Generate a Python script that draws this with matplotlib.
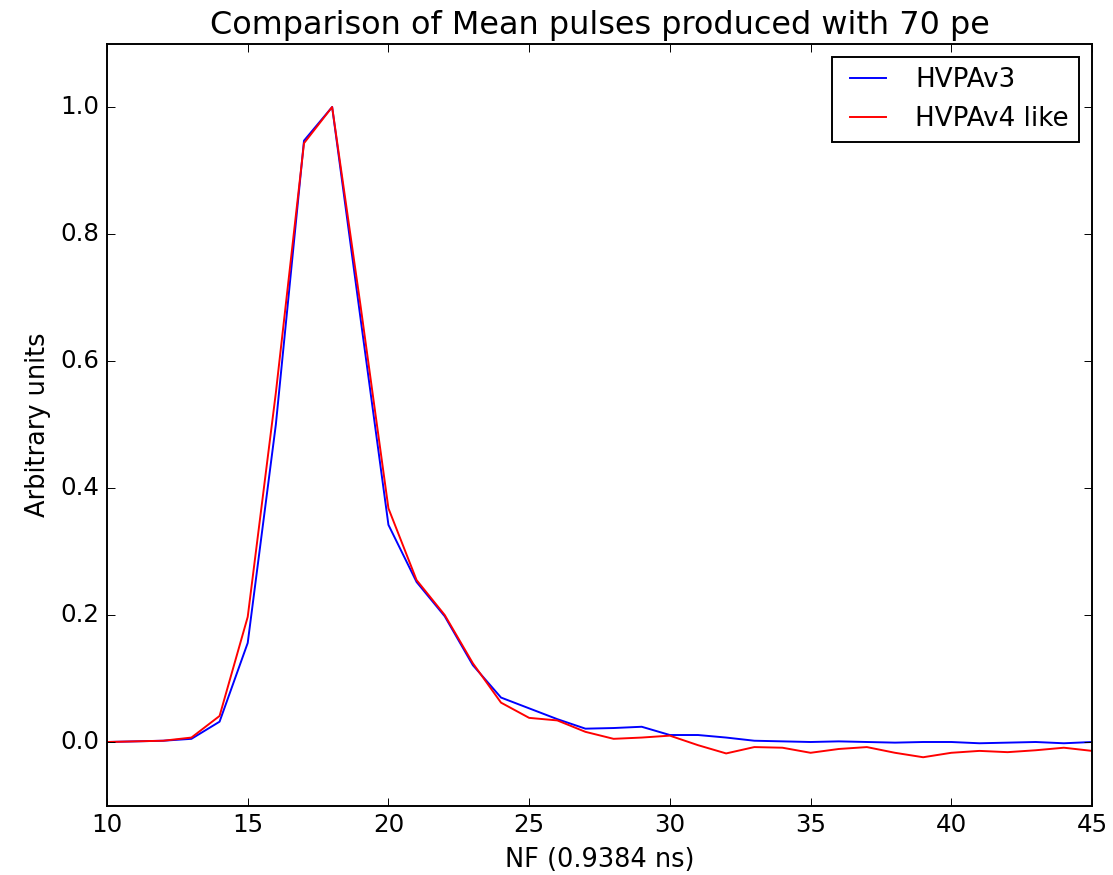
import matplotlib
matplotlib.use('Agg')
import matplotlib.pyplot as plt

# Sample index (NF bins)
nf = list(range(10, 46))

# Mean pulse, HVPAv3
hvpa_v3 = [0.0, 0.001, 0.002, 0.005, 0.032, 0.156, 0.50, 0.947, 1.0, 0.67,
           0.342, 0.252, 0.198, 0.121, 0.070, 0.053, 0.036, 0.021, 0.022, 0.024,
           0.011, 0.011, 0.007, 0.002, 0.001, 0.0, 0.001, 0.0, -0.001, 0.0,
           0.0, -0.002, -0.001, 0.0, -0.002, 0.0]

# Mean pulse, HVPAv4 like
hvpa_v4 = [0.0, 0.001, 0.002, 0.007, 0.041, 0.197, 0.55, 0.943, 1.0, 0.69,
           0.368, 0.255, 0.200, 0.124, 0.062, 0.038, 0.034, 0.016, 0.005, 0.007,
           0.010, -0.005, -0.018, -0.008, -0.009, -0.017, -0.011, -0.008, -0.017, -0.024,
           -0.017, -0.014, -0.016, -0.013, -0.009, -0.014]

plt.style.use('classic')
fig = plt.figure(figsize=(1113 / 139.0, 875 / 139.0), dpi=139)
fig.patch.set_facecolor('white')
ax = fig.add_axes([107 / 1113.0, 1 - 805.5 / 875.0, (1092 - 107) / 1113.0, (805.5 - 43.5) / 875.0])

ax.plot(nf, hvpa_v3, 'b-', label='HVPAv3')
ax.plot(nf, hvpa_v4, 'r-', label='HVPAv4 like')

ax.set_xlim(10, 45)
ax.set_ylim(-0.1, 1.1)
ax.set_xticks([10, 15, 20, 25, 30, 35, 40, 45])
ax.set_yticks([0.0, 0.2, 0.4, 0.6, 0.8, 1.0])
ax.tick_params(labelsize=12.7)
ax.set_xlabel('NF (0.9384 ns)', fontsize=13.3)
ax.set_ylabel('Arbitrary units', fontsize=13.3)
ax.set_title('Comparison of Mean pulses produced with 70 pe', fontsize=16.5)
ax.legend(loc='upper right', fontsize=13.5)

fig.savefig('out.png', dpi=139, facecolor='white')
